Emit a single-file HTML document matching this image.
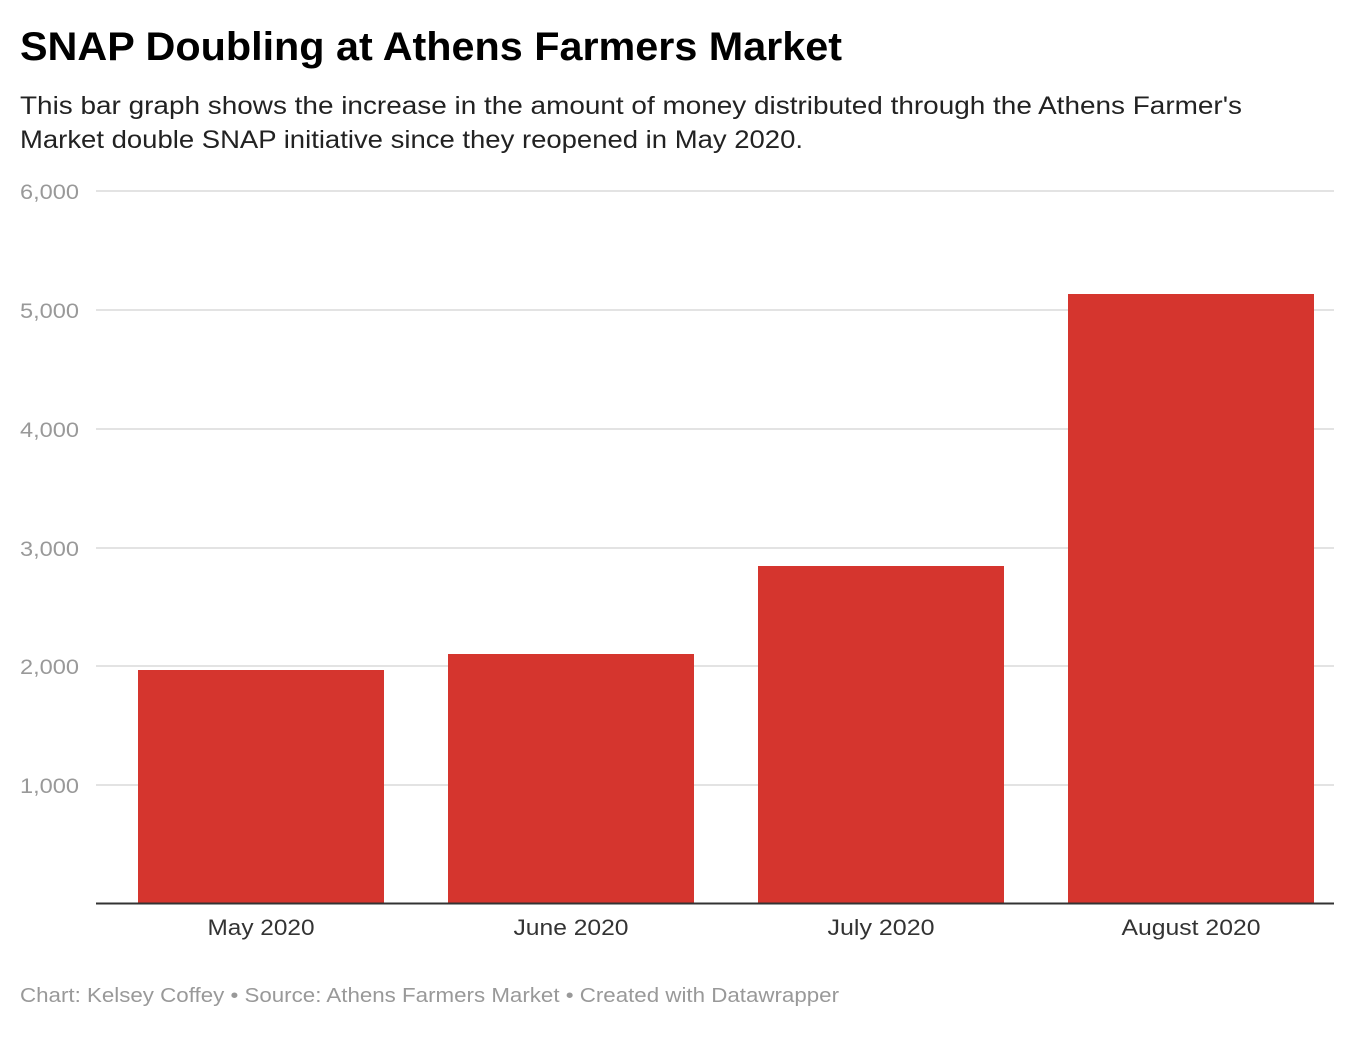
<!DOCTYPE html>
<html><head><meta charset="utf-8"><style>
html,body{margin:0;padding:0;background:#fff;}
body{width:1354px;height:1044px;overflow:hidden;font-family:"Liberation Sans",sans-serif;}
</style></head><body>
<svg width="1354" height="1044" xmlns="http://www.w3.org/2000/svg" font-family="Liberation Sans, sans-serif">
<text x="20" y="60" font-size="40" font-weight="bold" fill="#000" textLength="822" lengthAdjust="spacingAndGlyphs">SNAP Doubling at Athens Farmers Market</text>
<text x="20" y="114" font-size="25" fill="#222" textLength="1222" lengthAdjust="spacingAndGlyphs">This bar graph shows the increase in the amount of money distributed through the Athens Farmer's</text>
<text x="20" y="148" font-size="25" fill="#222" textLength="783" lengthAdjust="spacingAndGlyphs">Market double SNAP initiative since they reopened in May 2020.</text>
<g stroke="#e3e3e3" stroke-width="2">
<line x1="96" x2="1334" y1="191" y2="191"/>
<line x1="96" x2="1334" y1="310" y2="310"/>
<line x1="96" x2="1334" y1="429" y2="429"/>
<line x1="96" x2="1334" y1="548" y2="548"/>
<line x1="96" x2="1334" y1="666" y2="666"/>
<line x1="96" x2="1334" y1="785" y2="785"/>
</g>
<g font-size="21" fill="#999">
<text x="20" y="199" textLength="59" lengthAdjust="spacingAndGlyphs">6,000</text>
<text x="20" y="318" textLength="59" lengthAdjust="spacingAndGlyphs">5,000</text>
<text x="20" y="437" textLength="59" lengthAdjust="spacingAndGlyphs">4,000</text>
<text x="20" y="556" textLength="59" lengthAdjust="spacingAndGlyphs">3,000</text>
<text x="20" y="674" textLength="59" lengthAdjust="spacingAndGlyphs">2,000</text>
<text x="20" y="793" textLength="59" lengthAdjust="spacingAndGlyphs">1,000</text>
</g>
<g fill="#d5352e">
<rect x="138" y="670" width="246" height="233"/>
<rect x="448" y="654" width="246" height="249"/>
<rect x="758" y="566" width="246" height="337"/>
<rect x="1068" y="294" width="246" height="609"/>
</g>
<line x1="96" x2="1334" y1="903.5" y2="903.5" stroke="#333" stroke-width="2"/>
<g font-size="22" fill="#333" text-anchor="middle">
<text x="261" y="935" textLength="107" lengthAdjust="spacingAndGlyphs">May 2020</text>
<text x="571" y="935" textLength="115" lengthAdjust="spacingAndGlyphs">June 2020</text>
<text x="881" y="935" textLength="107" lengthAdjust="spacingAndGlyphs">July 2020</text>
<text x="1191" y="935" textLength="139" lengthAdjust="spacingAndGlyphs">August 2020</text>
</g>
<text x="20" y="1002" font-size="20" fill="#999" textLength="819" lengthAdjust="spacingAndGlyphs">Chart: Kelsey Coffey • Source: Athens Farmers Market • Created with Datawrapper</text>
</svg>
</body></html>
